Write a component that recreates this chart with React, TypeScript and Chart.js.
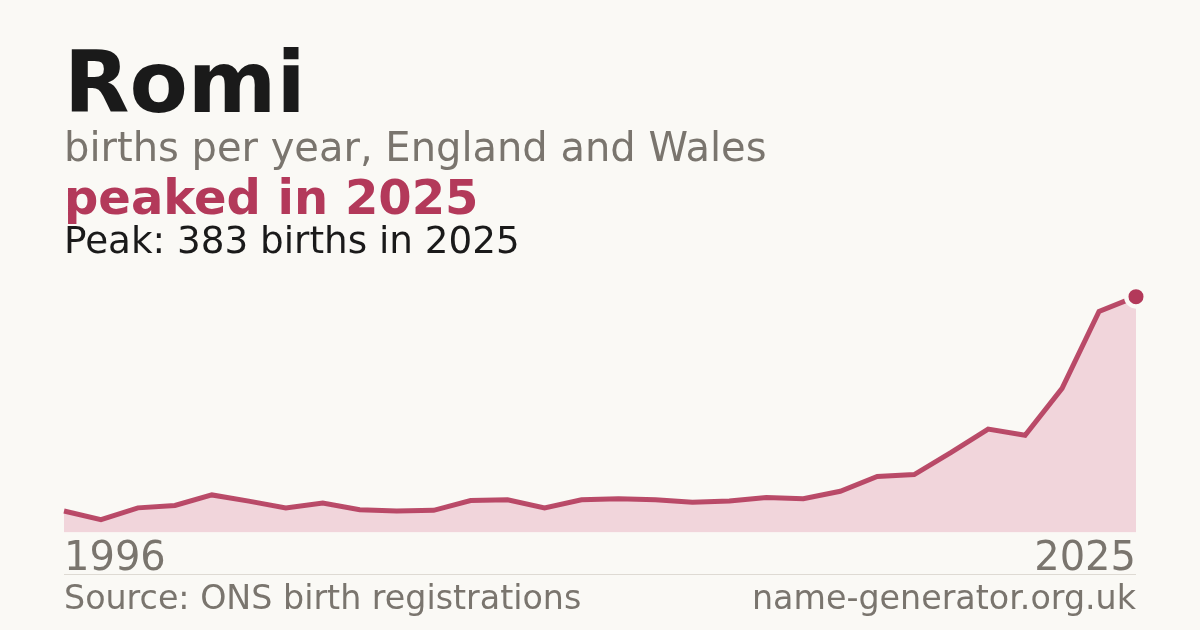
import React, { useEffect, useRef } from "react";
import { Chart, registerables } from "chart.js";

Chart.register(...registerables);

const years = [
  "1996", "1997", "1998", "1999", "2000", "2001", "2002", "2003", "2004", "2005",
  "2006", "2007", "2008", "2009", "2010", "2011", "2012", "2013", "2014", "2015",
  "2016", "2017", "2018", "2019", "2020", "2021", "2022", "2023", "2024", "2025",
];
const births = [
  35, 21, 40, 44, 61, 51, 40, 48, 37, 35,
  36, 52, 53, 40, 53, 55, 53, 49, 51, 57,
  55, 67, 91, 94, 130, 168, 158, 234, 359, 383,
];
const shownTicks = ["1996", "2025"];
const yMax = 410;

const titleText = "Romi";
const subtitleText = "births per year, England and Wales";
const trendText = "peaked in 2025";
const peakText = "Peak: 383 births in 2025";
const sourceText = "Source: ONS birth registrations";
const siteText = "name-generator.org.uk";

const BG = "#faf9f5";
const CRIMSON = "#b3395a";
const GREY = "#7a756e";
const DARK = "#1a1a1a";
const FONT = "'DejaVu Sans', sans-serif";

export default function App() {
  const canvasRef = useRef<HTMLCanvasElement | null>(null);

  useEffect(() => {
    const canvas = canvasRef.current;
    if (!canvas) return;
    const last = births.length - 1;
    const chart = new Chart(canvas, {
      type: "line",
      data: {
        labels: years,
        datasets: [
          {
            data: births,
            borderColor: "rgba(179,57,90,0.9)",
            borderWidth: 5,
            backgroundColor: "#f1d5db",
            fill: "origin",
            tension: 0,
            clip: false as any,
            pointRadius: (ctx: any) => (ctx.dataIndex === last ? 9.75 : 0),
            pointHoverRadius: (ctx: any) => (ctx.dataIndex === last ? 9.75 : 0),
            pointBorderWidth: 4.5,
            pointBorderColor: BG,
            pointBackgroundColor: CRIMSON,
          },
        ],
      },
      options: {
        responsive: false,
        animation: false,
        events: [],
        layout: { padding: { left: 64, right: 64, top: 280, bottom: 43.5 } },
        plugins: { legend: { display: false }, tooltip: { enabled: false } },
        scales: {
          x: {
            type: "category",
            offset: false,
            grid: { display: false, drawTicks: false, tickLength: 0 },
            border: { display: false },
            ticks: {
              autoSkip: false,
              maxRotation: 0,
              minRotation: 0,
              align: "inner",
              padding: 3,
              color: GREY,
              font: { family: FONT, size: 40 },
              callback: (_v: any, i: number) =>
                shownTicks.includes(years[i]) ? years[i] : "",
            },
          },
          y: { display: false, min: 0, max: yMax },
        },
      },
    });
    return () => chart.destroy();
  }, []);

  const text = (
    content: string,
    size: number,
    baseline: number,
    color: string,
    weight: number,
    align: "left" | "right" = "left"
  ) => (
    <div
      style={{
        position: "absolute",
        top: baseline - 0.846 * size,
        ...(align === "left" ? { left: 64 } : { right: 64 }),
        fontFamily: FONT,
        fontSize: size,
        lineHeight: `${size}px`,
        fontWeight: weight,
        color,
        whiteSpace: "nowrap",
      }}
    >
      {content}
    </div>
  );

  return (
    <div
      style={{
        position: "absolute",
        left: 0,
        top: 0,
        width: 1200,
        height: 630,
        background: BG,
        overflow: "hidden",
      }}
    >
      <canvas
        ref={canvasRef}
        width={1200}
        height={630}
        style={{ position: "absolute", left: 0, top: 0, width: 1200, height: 630 }}
      />
      {text(titleText, 85, 112, DARK, 700)}
      {text(subtitleText, 40, 161, GREY, 400)}
      {text(trendText, 48, 214, CRIMSON, 700)}
      {text(peakText, 37.3, 254, DARK, 400)}
      <div
        style={{
          position: "absolute",
          left: 64,
          top: 574,
          width: 1072,
          height: 1,
          background: "#dedad3",
        }}
      />
      {text(sourceText, 33.3, 609.5, GREY, 400)}
      {text(siteText, 33.3, 609.5, GREY, 400, "right")}
    </div>
  );
}
